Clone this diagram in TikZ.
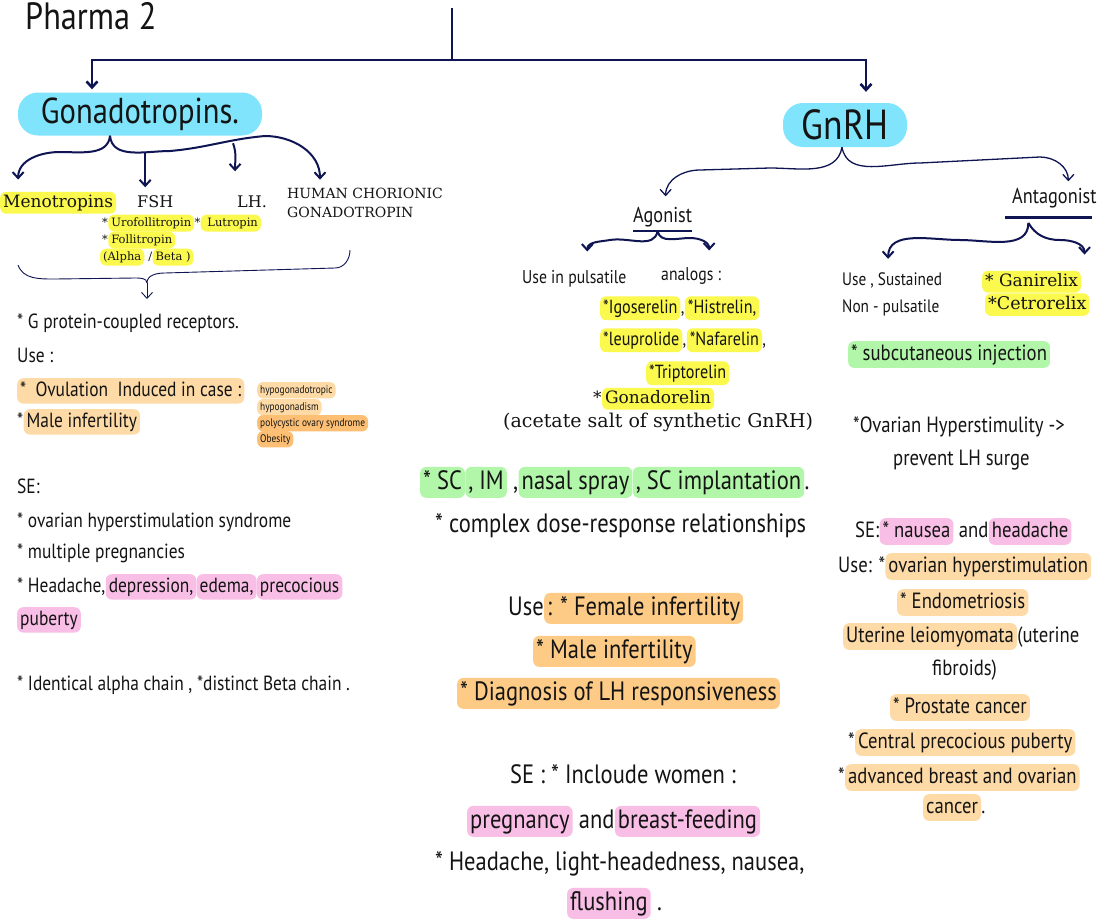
\documentclass[tikz,border=0pt]{standalone}
\usepackage{fontspec}
\usetikzlibrary{arrows.meta, positioning}
\newfontfamily\hand[FakeStretch=0.85]{PT Sans}
\newfontfamily\typew{DejaVu Serif}
\definecolor{ink}{HTML}{0E1552}
\definecolor{txtc}{HTML}{141414}
\definecolor{skyhl}{HTML}{80E5FC}
\definecolor{yelhl}{HTML}{FBF84E}
\definecolor{orghl}{HTML}{FDDAA6}
\definecolor{orgmid}{HTML}{FDCB85}
\definecolor{orgdk}{HTML}{FCBF74}
\definecolor{pinkhl}{HTML}{F9BEE6}
\definecolor{grnhl}{HTML}{B2F7A9}
\tikzset{
  hw/.style={inner sep=0pt, anchor=base west, text=txtc,
    font=\hand\fontsize{#1}{#1}\selectfont,
    text height=0.72*#1pt, text depth=0.22*#1pt},
  tw/.style={inner sep=0pt, anchor=base west, text=txtc,
    font=\typew\fontsize{#1}{#1}\selectfont,
    text height=0.72*#1pt, text depth=0.22*#1pt},
  hl/.style={fill=#1, rounded corners=6pt, inner xsep=3pt, inner ysep=3pt},
  topic/.style={fill=skyhl, rounded corners=20pt, inner sep=0pt, text=txtc},
  trunk/.style={draw=ink, line width=2.6pt},
  brcG/.style={draw=ink, line width=2pt},
  brc/.style={draw=ink, line width=1.3pt},
  thinb/.style={draw=ink, line width=0.9pt},
  arr/.style={-{Straight Barb[length=6pt,width=11pt]}},
}

\begin{document}
\begin{tikzpicture}[x=1pt, y=-1pt]
    \useasboundingbox (0,0) rectangle (1104,919);
    \fill[white] (0,0) rectangle (1104,919);
    % titulo e topicos
    \node[hw=38] (title) at (25,29) {Pharma 2};
    \node[topic, minimum width=244pt, minimum height=43pt,
      font=\hand\fontsize{36}{36}\selectfont] (gona) at (140,114) {Gonadotropins.};
    \node[topic, minimum width=124pt, minimum height=44pt,
      font=\hand\fontsize{42}{42}\selectfont] (gnrh) at (845,125) {GnRH};
    \coordinate (top) at (452,8);
    \coordinate (split) at (452,60);
    \draw[trunk] (top) -- (split);
    \draw[trunk, arr] (split) -| ([xshift=-48pt, yshift=3pt]gona.north);
    \draw[trunk, arr] (split) -| ([xshift=21pt, yshift=11pt]gnrh.north);

    % Gonadotropins: tipos
    \node[tw=17, hl=yelhl] (meno) at (0,207) {Menotropins~};
    \node[tw=16] (fsh) at (137,207) {FSH};
    \node[tw=16] (lh) at (237,207) {LH.};
    \node[tw=14] (hcg1) at (287,198) {HUMAN CHORIONIC};
    \node[tw=14] (hcg2) at (287,217) {GONADOTROPIN};
    \node[tw=11.5] (uro0) at (102,226) {*};
    \node[tw=11.5, hl=yelhl] (uro) at (uro0.base east) {Urofollitropin};
    \node[tw=11.5] (lut0) at (uro.base east) {*};
    \node[tw=11.5, hl=yelhl] (lut) at (lut0.base east) {~Lutropin};
    \node[tw=11.5] (fol0) at (102,243) {*};
    \node[tw=11.5, hl=yelhl] (fol) at (fol0.base east) {Follitropin};
    \node[tw=11.5, hl=yelhl] (ab1) at (100,260) {(Alpha};
    \node[tw=11.5] (ab2) at (ab1.base east) {~/~};
    \node[tw=11.5, hl=yelhl] (ab3) at (ab2.base east) {Beta )};
    \coordinate (gj) at ([xshift=-30pt]gona.south);
    \draw[brcG, arr] (gj) to[out=-95, in=0] (60,152)
      to[out=180, in=90] ([xshift=-40pt, yshift=12pt]meno.north);
    \draw[brcG, arr] (gj) to[out=-85, in=180] (170,151) to[out=5, in=185] (265,136)
      to[out=0, in=90] ([xshift=-45pt, yshift=8pt]hcg1.north);
    \draw[brcG, arr] ([xshift=-10pt, yshift=42pt]fsh.north) -- ([xshift=-10pt, yshift=8pt]fsh.north);
    \draw[brcG, arr] ([xshift=-19pt, yshift=52pt]lh.north)
      to[out=-70, in=90] ([xshift=-17pt, yshift=24pt]lh.north);

    % chave inferior
    \coordinate (bl) at (18,265);
    \coordinate (br) at (350,250);
    \coordinate (bm) at (147,283);
    \coordinate (bt) at (147,299);
    \draw[thinb] (bl) to[out=-70, in=180] (55,279) -- (135,278) to[out=0, in=90] (bm);
    \draw[thinb] (bm) to[out=90, in=180] (165,273) -- (335,268) to[out=0, in=-90] (br);
    \draw[thinb, arr] (bm) -- (bt);

    % coluna esquerda
    \node[hw=20.5] (gpcr) at (17,328) {* G protein-coupled receptors.};
    \node[hw=20.5] (use1) at (17,362) {Use :};
    \node[hw=20.5, hl=orghl] (ovu) at (17,396) {*~ Ovulation~ Induced in case :};
    \node[hw=20.5] (mal0) at (17,427) {*};
    \node[hw=20.5, hl=orghl] (mal) at (mal0.base east) {Male infertility~};
    \node[hw=11, hl=orghl] (tg1) at (257,393) {hypogonadotropic};
    \node[hw=11, hl=orghl] (tg2) at (257,410) {hypogonadism};
    \node[hw=11, hl=orgdk] (tg3) at (257,426) {polycystic ovary syndrome};
    \node[hw=11, hl=orgdk] (tg4) at (257,442) {Obesity};
    \node[hw=20.5] (se1) at (17,493) {SE:};
    \node[hw=20.5] (se2) at (17,527) {* ovarian hyperstimulation syndrome};
    \node[hw=20.5] (se3) at (17,558) {* multiple pregnancies};
    \node[hw=20.5] (se4) at (17,592) {* Headache,~};
    \node[hw=20.5, hl=pinkhl] (dep) at (se4.base east) {depression,};
    \node[hw=20.5, hl=pinkhl] (ede) at (dep.base east) {edema,};
    \node[hw=20.5, hl=pinkhl] (pre) at (ede.base east) {precocious~};
    \node[hw=20.5, hl=pinkhl] (pub) at (17,625) {puberty};
    \node[hw=20.5] (chain) at (17,690) {* Identical alpha chain , *distinct Beta chain .};

    % GnRH: agonista
    \node[hw=21.5] (ago) at (633,222) {Agonist};
    \node[hw=21.5] (anta) at (1012,203) {Antagonist};
    \draw[brc] ([yshift=-4pt]ago.south west) -- ([yshift=-4pt]ago.south east);
    \coordinate (gnj) at ([xshift=-3pt]gnrh.south);
    \draw[brc, arr] (gnj) to[out=-100, in=0] (770,168) -- (700,170)
      to[out=180, in=90] ([xshift=3pt, yshift=10pt]ago.north);
    \draw[brc, arr] (gnj) to[out=-80, in=180] (920,163) -- (1040,157)
      to[out=0, in=90] ([xshift=14pt, yshift=6pt]anta.north);
    \node[hw=18.5] (puls) at (522,283) {Use in pulsatile};
    \node[hw=18.5] (anal) at (661,280) {analogs :};
    \coordinate (aj) at ([xshift=-5pt, yshift=-4pt]ago.south);
    \draw[brcG, arr] (aj) to[out=-100, in=10] (610,240)
      to[out=190, in=90] ([xshift=13pt, yshift=18pt]puls.north);
    \draw[brcG, arr] (aj) to[out=-80, in=180] (690,238)
      to[out=0, in=90] ([xshift=18pt, yshift=16pt]anal.north);
    \node[hw=19, hl=yelhl] (igo) at (600,313) {*Igoserelin};
    \node[hw=19] (igoc) at (igo.base east) {,~};
    \node[hw=19, hl=yelhl] (his) at (igoc.base east) {*Histrelin,};
    \node[hw=19, hl=yelhl] (leu) at (600,345) {*leuprolide};
    \node[hw=19] (leuc) at (leu.base east) {,~};
    \node[hw=19, hl=yelhl] (naf) at (leuc.base east) {*Nafarelin};
    \node[hw=19] (nafc) at (naf.base east) {,};
    \node[hw=19, hl=yelhl] (tri) at (646,378) {*Triptorelin};
    \node[tw=17] (gdr0) at (593,403) {*};
    \node[tw=17, hl=yelhl] (gdr) at (gdr0.base east) {Gonadorelin~};
    \node[tw=19] (acet) at (503,427) {(acetate salt of synthetic GnRH)};

    % coluna do meio
    \node[hw=26.5, hl=grnhl] (sc) at (420,489) {* SC};
    \node[hw=26.5, hl=grnhl] (im) at (sc.base east) {, IM};
    \node[hw=26.5] (c1) at (im.base east) {~,~};
    \node[hw=26.5, hl=grnhl] (nas) at (c1.base east) {nasal spray};
    \node[hw=26.5, hl=grnhl] (sci) at (nas.base east) {, SC implantation};
    \node[hw=26.5] (c2) at (sci.base east) {.};
    \node[hw=26.5] (dose) at (435,532) {* complex dose-response relationships};
    \node[hw=26.5] (use2) at (508,615) {Use~};
    \node[hw=26.5, hl=orgmid] (fem) at (use2.base east) {: * Female infertility};
    \node[hw=26.5, hl=orgmid] (male2) at (533,658) {* Male infertility~};
    \node[hw=26.5, hl=orgmid] (diag) at (457,700) {* Diagnosis of LH responsiveness};
    \node[hw=26.5] (se5) at (510,783) {SE : * Incloude women :};
    \node[hw=26.5, hl=pinkhl] (preg) at (467,828) {pregnancy};
    \node[hw=26.5] (and1) at (preg.base east) {~and};
    \node[hw=26.5, hl=pinkhl] (bre) at (and1.base east) {breast-feeding};
    \node[hw=26.5] (se6) at (435,870) {* Headache, light-headedness, nausea,};
    \node[hw=26.5, hl=pinkhl] (flu) at (567,910) {flushing};
    \node[hw=26.5] (flud) at (flu.base east) {~.};

    % GnRH: antagonista
    \draw[ink, line width=3pt] ([xshift=-7pt, yshift=-10pt]anta.south west)
      -- ([xshift=-5pt, yshift=-10pt]anta.south east);
    \node[hw=18] (sus1) at (842,285) {Use , Sustained};
    \node[hw=18] (sus2) at (842,312) {Non - pulsatile};
    \node[tw=17, hl=yelhl] (gan) at (982,286) {* Ganirelix};
    \node[tw=17.5, hl=yelhl] (cet) at (985,309) {*Cetrorelix};
    \coordinate (tj) at ([xshift=-26pt, yshift=-15pt]anta.south);
    \draw[brcG, arr] (tj) to[out=-90, in=0] (960,240)
      to[out=180, in=90] ([xshift=-4pt, yshift=13pt]sus1.north);
    \draw[brcG, arr] (tj) to[out=-60, in=180] (1060,240)
      to[out=0, in=90] ([xshift=53pt, yshift=16pt]gan.north);
    \node[hw=22, hl=grnhl] (subc) at (848,360) {* subcutaneous injection~};
    \node[hw=22] (ovh1) at (853,432) {*Ovarian Hyperstimulity ->};
    \node[hw=22] (ovh2) at (893,465) {prevent LH surge};
    \node[hw=22] (se7) at (855,537) {SE:};
    \node[hw=22, hl=pinkhl] (nau) at (se7.base east) {* nausea};
    \node[hw=22] (and2) at (nau.base east) {~and};
    \node[hw=22, hl=pinkhl] (hea) at (and2.base east) {headache};
    \node[hw=22] (use3) at (838,572) {Use: *~};
    \node[hw=22, hl=orghl] (ovh3) at (use3.base east) {ovarian hyperstimulation};
    \node[hw=22, hl=orghl] (endo) at (897,608) {* Endometriosis~};
    \node[hw=22, hl=orghl] (ute) at (843,642) {Uterine leiomyomata};
    \node[hw=22] (ute2) at (ute.base east) {(uterine};
    \node[hw=22] (fib) at (932,675) {fibroids)};
    \node[hw=22, hl=orghl] (pro) at (890,713) {* Prostate cancer};
    \node[hw=22] (cen0) at (848,748) {*~};
    \node[hw=22, hl=orghl] (cen) at (cen0.base east) {Central precocious puberty};
    \node[hw=22] (adv0) at (838,783) {*};
    \node[hw=22, hl=orghl] (adv) at (adv0.base east) {advanced breast and ovarian};
    \node[hw=22, hl=orghl] (can) at (923,813) {cancer};
    \node[hw=22] (cand) at (can.base east) {.};
\end{tikzpicture}
\end{document}
